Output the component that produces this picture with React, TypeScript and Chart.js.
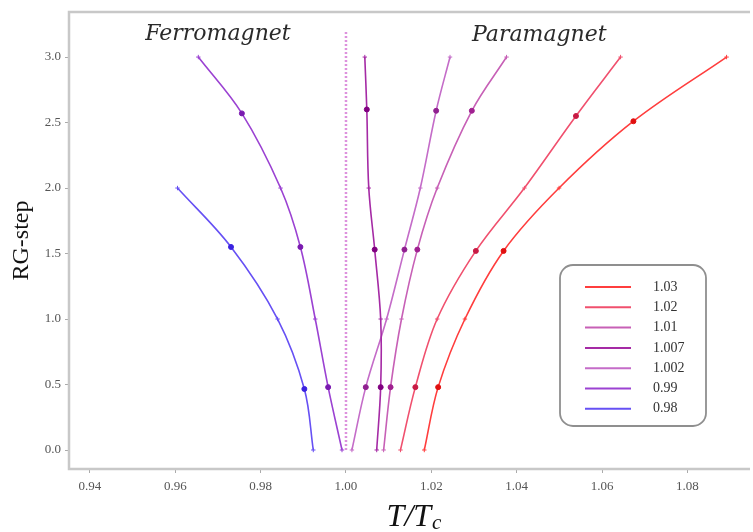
import React, { useEffect, useRef } from "react";
import { Chart, registerables } from "chart.js";

Chart.register(...registerables);

// ---- data ----
const X_TICKS = [0.94, 0.96, 0.98, 1.0, 1.02, 1.04, 1.06, 1.08];
const Y_TICKS = [0.0, 0.5, 1.0, 1.5, 2.0, 2.5, 3.0];

const LABELS = ["1.03", "1.02", "1.01", "1.007", "1.002", "0.99", "0.98"];
const COLORS = ["#ff3d3d", "#f0506e", "#c760b6", "#a52aa5", "#c46cc8", "#9b42d2", "#6650f4"];
const DARK = ["#e01010", "#c81a44", "#a02090", "#800080", "#902090", "#7a1ab0", "#3a22e0"];

const T_103 = [1.01835, 1.0216, 1.02787, 1.03693, 1.04993, 1.06735, 1.08918];
const RG_103 = [0, 0.48, 1.0, 1.52, 2.0, 2.51, 3.0];
const T_102 = [1.01277, 1.01626, 1.02137, 1.03043, 1.04181, 1.05389, 1.06434];
const RG_102 = [0, 0.48, 1.0, 1.52, 2.0, 2.55, 3.0];
const T_101 = [1.00882, 1.01045, 1.01301, 1.01672, 1.02137, 1.02949, 1.03762];
const RG_101 = [0, 0.48, 1.0, 1.53, 2.0, 2.59, 3.0];
const T_1007 = [1.0072, 1.00813, 1.00813, 1.00673, 1.00534, 1.00488, 1.00441];
const RG_1007 = [0, 0.48, 1.0, 1.53, 2.0, 2.6, 3.0];
const T_1002 = [1.00139, 1.00464, 1.00952, 1.0137, 1.01742, 1.02113, 1.02438];
const RG_1002 = [0, 0.48, 1.0, 1.53, 2.0, 2.59, 3.0];
const T_099 = [0.99907, 0.99582, 0.9928, 0.98932, 0.98467, 0.97561, 0.9654];
const RG_099 = [0, 0.48, 1.0, 1.55, 2.0, 2.57, 3.0];
const T_098 = [0.99234, 0.99025, 0.98398, 0.97306, 0.96052];
const RG_098 = [0, 0.466, 1.0, 1.55, 2.0];

const SERIES_T = [T_103, T_102, T_101, T_1007, T_1002, T_099, T_098];
const SERIES_RG = [RG_103, RG_102, RG_101, RG_1007, RG_1002, RG_099, RG_098];

const TC_LINE_T = [1.0, 1.0];
const TC_LINE_RG = [0, 3.2];

const SERIF = '"Liberation Serif", "Times New Roman", serif';

function makeDataset(i: number) {
  const T = SERIES_T[i];
  const R = SERIES_RG[i];
  return {
    label: LABELS[i],
    data: T.map((t, k) => ({ x: t, y: R[k] })),
    showLine: true,
    borderColor: COLORS[i],
    borderWidth: 1.6,
    tension: 0.35,
    pointRadius: T.map((_, k) => (k % 2 === 1 ? 2.5 : 2.2)),
    pointStyle: T.map((_, k) => (k % 2 === 1 ? "circle" : "cross")),
    pointBackgroundColor: T.map((_, k) => (k % 2 === 1 ? DARK[i] : COLORS[i])),
    pointBorderColor: T.map((_, k) => (k % 2 === 1 ? DARK[i] : COLORS[i])),
    pointBorderWidth: 1,
  };
}

const decorPlugin = {
  id: "decor",
  beforeDatasetsDraw(chart: any) {
    const { ctx, chartArea: a } = chart;
    ctx.save();
    ctx.strokeStyle = "#c8c8c8";
    ctx.lineWidth = 2.5;
    ctx.beginPath();
    ctx.moveTo(a.right + 2, a.top);
    ctx.lineTo(a.left, a.top);
    ctx.lineTo(a.left, a.bottom);
    ctx.lineTo(a.right + 2, a.bottom);
    ctx.stroke();
    ctx.restore();
  },
  afterDraw(chart: any) {
    const { ctx, chartArea: a, scales } = chart;
    const xs = scales.x;
    const ys = scales.y;
    ctx.save();
    // region annotations
    ctx.fillStyle = "#2a2a2a";
    ctx.font = 'italic 22px "DejaVu Serif", serif';
    ctx.textAlign = "center";
    ctx.textBaseline = "alphabetic";
    ctx.fillText("Ferromagnet", xs.getPixelForValue(0.97), ys.getPixelForValue(3.13));
    ctx.fillText("Paramagnet", xs.getPixelForValue(1.0453), ys.getPixelForValue(3.12));

    // y title
    ctx.save();
    ctx.translate(22, (a.top + a.bottom) / 2);
    ctx.rotate(-Math.PI / 2);
    ctx.font = `24px ${SERIF}`;
    ctx.fillStyle = "#111";
    ctx.textAlign = "center";
    ctx.textBaseline = "middle";
    ctx.fillText("RG-step", 0, 0);
    ctx.restore();

    // x title T/T_c
    const big = `italic 32px ${SERIF}`;
    const small = `italic 21px ${SERIF}`;
    ctx.font = big;
    const w1 = ctx.measureText("T/T").width;
    ctx.font = small;
    const w2 = ctx.measureText("c").width;
    const cx = (a.left + a.right) / 2 + 5;
    const x0 = cx - (w1 + w2) / 2;
    const base = 526;
    ctx.fillStyle = "#111";
    ctx.textAlign = "left";
    ctx.font = big;
    ctx.fillText("T/T", x0, base);
    ctx.font = small;
    ctx.fillText("c", x0 + w1 + 1, base + 3);

    // legend
    const bx = 560, by = 265, bw = 146, bh = 161;
    ctx.beginPath();
    ctx.roundRect(bx, by, bw, bh, 13);
    ctx.fillStyle = "rgba(255,255,255,0.9)";
    ctx.fill();
    ctx.strokeStyle = "#8f8f8f";
    ctx.lineWidth = 1.8;
    ctx.stroke();
    ctx.font = `14px ${SERIF}`;
    ctx.textBaseline = "middle";
    const items = chart.data.datasets.filter((d: any) => d.label);
    items.forEach((d: any, k: number) => {
      const y = by + 22 + k * 20.3;
      ctx.strokeStyle = d.borderColor;
      ctx.lineWidth = 2;
      ctx.beginPath();
      ctx.moveTo(585, y);
      ctx.lineTo(631, y);
      ctx.stroke();
      ctx.fillStyle = "#333";
      ctx.fillText(d.label, 653, y);
    });
    ctx.restore();
  },
};

export default function App() {
  const ref = useRef<HTMLCanvasElement | null>(null);
  useEffect(() => {
    document.body.style.margin = "0";
    const datasets: any[] = LABELS.map((_, i) => makeDataset(i));
    datasets.push({
      label: "",
      data: TC_LINE_T.map((t, k) => ({ x: t, y: TC_LINE_RG[k] })),
      showLine: true,
      borderColor: "rgba(210,110,210,0.75)",
      borderWidth: 2.5,
      borderDash: [2, 2],
      pointRadius: 0,
    });
    const chart = new Chart(ref.current as HTMLCanvasElement, {
      type: "scatter",
      data: { datasets },
      options: {
        animation: false,
        responsive: true,
        maintainAspectRatio: false,
        layout: { padding: { top: 12, left: 0, right: 0, bottom: 0 } },
        plugins: { legend: { display: false }, tooltip: { enabled: false } },
        scales: {
          x: {
            type: "linear",
            min: 0.9351,
            max: 1.0942,
            afterFit: (s: any) => {
              s.height = 63;
            },
            afterBuildTicks: (s: any) => {
              s.ticks = X_TICKS.map((v) => ({ value: v }));
            },
            ticks: {
              font: { family: SERIF, size: 13 },
              color: "#555",
              padding: 6,
              maxRotation: 0,
              callback: (v: any) => Number(v).toFixed(2),
            },
            grid: { drawOnChartArea: false, drawTicks: true, tickLength: 4, color: "#aaa" },
            border: { display: false },
          },
          y: {
            type: "linear",
            min: -0.145,
            max: 3.344,
            afterFit: (s: any) => {
              s.width = 69;
            },
            afterBuildTicks: (s: any) => {
              s.ticks = Y_TICKS.map((v) => ({ value: v }));
            },
            ticks: {
              font: { family: SERIF, size: 13 },
              color: "#555",
              padding: 4,
              callback: (v: any) => Number(v).toFixed(1),
            },
            grid: { drawOnChartArea: false, drawTicks: true, tickLength: 4, color: "#aaa" },
            border: { display: false },
          },
        },
      },
      plugins: [decorPlugin],
    });
    return () => chart.destroy();
  }, []);
  return (
    <div style={{ position: "fixed", left: 0, top: 0, width: 753, height: 532 }}>
      <canvas ref={ref} />
    </div>
  );
}
